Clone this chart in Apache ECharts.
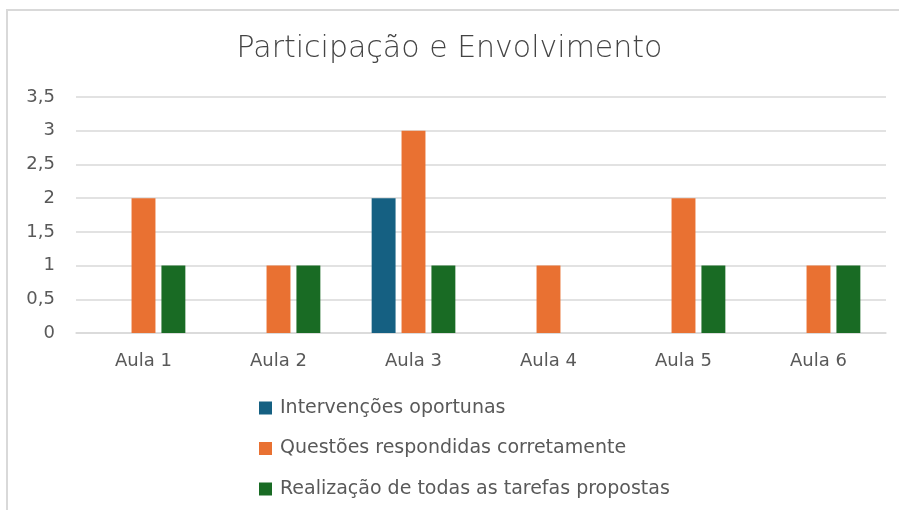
<!DOCTYPE html>
<html>
<head>
<meta charset="utf-8">
<script src="https://cdn.jsdelivr.net/npm/echarts@6/dist/echarts.min.js"></script>
<style>
  html, body { margin: 0; padding: 0; background: #fff; }
  #chart { width: 899px; height: 510px; }
  #frame { position: absolute; left: 6px; top: 9px; width: 900px; height: 510px; border: 2px solid #d9d9d9; pointer-events: none; }
</style>
</head>
<body>
<div id="chart"></div>
<div id="frame"></div>
<script>
var categories = ['Aula 1', 'Aula 2', 'Aula 3', 'Aula 4', 'Aula 5', 'Aula 6'];
var seriesNames = ['Intervenções oportunas', 'Questões respondidas corretamente', 'Realização de todas as tarefas propostas'];
var intervencoes = [0, 0, 2, 0, 0, 0];
var questoes = [2, 1, 3, 1, 2, 1];
var tarefas = [1, 1, 1, 0, 1, 1];
var colors = ['#156082', '#E97132', '#196B24'];

var chart = echarts.init(document.getElementById('chart'));
var textColor = '#595959';
var font = 'DejaVu Sans';
var option = {
    animation: false,
    color: colors,
    title: {
        text: 'Participação e Envolvimento',
        left: 'center',
        top: 29,
        textStyle: { fontFamily: font, fontSize: 30, fontWeight: 200, color: '#444' }
    },
    grid: { left: 76, right: 13, top: 97, bottom: 177 },
    legend: {
        orient: 'vertical',
        left: 254,
        top: 392,
        itemWidth: 13,
        itemHeight: 13,
        itemGap: 18.5,
        icon: 'rect',
        data: seriesNames,
        textStyle: { fontFamily: font, fontSize: 19, color: textColor, lineHeight: 22, padding: [0, 0, 0, 3] }
    },
    xAxis: {
        type: 'category',
        data: categories,
        axisLine: { lineStyle: { color: '#d9d9d9', width: 1.5 } },
        axisTick: { show: false },
        axisLabel: { fontFamily: font, fontSize: 18, color: textColor, margin: 19 }
    },
    yAxis: {
        type: 'value',
        min: 0,
        max: 3.5,
        interval: 0.5,
        axisLine: { show: false },
        axisTick: { show: false },
        splitLine: { lineStyle: { color: '#d9d9d9', width: 1.5 } },
        axisLabel: {
            fontFamily: font, fontSize: 18, color: textColor, margin: 21,
            formatter: function (v) { return String(v).replace('.', ','); }
        }
    },
    series: [
        { name: seriesNames[0], type: 'bar', data: intervencoes, barGap: '25%', barCategoryGap: '38%' },
        { name: seriesNames[1], type: 'bar', data: questoes, barGap: '25%', barCategoryGap: '38%' },
        { name: seriesNames[2], type: 'bar', data: tarefas, barGap: '25%', barCategoryGap: '38%' }
    ]
};
chart.setOption(option);
</script>
</body>
</html>
